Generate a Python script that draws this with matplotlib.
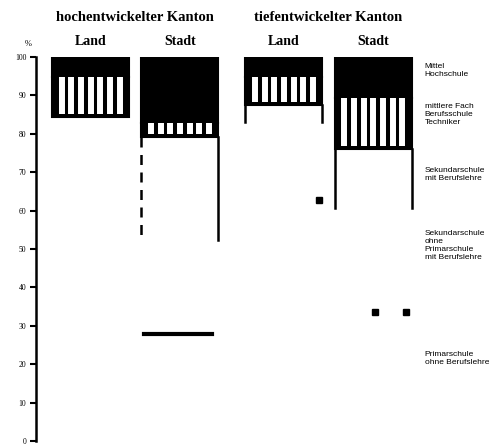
"""Schulbildung nach Kanton und Wohnort: stacked 100% bars (scan-style)."""
import numpy as np
import matplotlib
matplotlib.use("Agg")
import matplotlib.pyplot as plt  # noqa: E402

nan = np.nan

kantone = ["hochentwickelter Kanton", "tiefentwickelter Kanton"]
wohnort = ["Land", "Stadt", "Land", "Stadt"]

# shares in %, top of the bar downwards (nan = not legible in the scan)
hochschule = [5.2, 17.2, 5.2, 10.7]
fachschule = [10.4, 3.6, 7.3, 13.3]
sek_mit = [nan, 26.9, 24.7, 15.3]
sek_ohne_prim_mit = [nan, 24.4, nan, 27.1]
prim_ohne = [nan, 27.9, nan, 33.6]

legend_labels = ["Mittel\nHochschule",
                 "mittlere Fach\nBerufsschule\nTechniker",
                 "Sekundarschule\nmit Berufslehre",
                 "Sekundarschule\nohne\nPrimarschule\nmit Berufslehre",
                 "Primarschule\nohne Berufslehre"]
yticks = list(range(0, 101, 10))

SERIF = ["Liberation Serif", "DejaVu Serif"]
NARROW = ["Liberation Sans", "DejaVu Sans"]
W = 1.0
group_x = [1.29, 3.80]
pos = [group_x[0] - 0.58, group_x[0] + 0.58, group_x[1] - 0.58, group_x[1] + 0.58]

fig = plt.figure(figsize=(5.04, 4.48), dpi=100)
ax = fig.add_axes([36 / 504, 7 / 448, 468 / 504, 384 / 448])
ax.set_xlim(0, 468 / 77)
ax.set_ylim(0, 100)

top = np.full(4, 100.0)
h = np.array(hochschule)
f = np.array(fachschule)
ax.bar(pos, h, W, bottom=top - h, color="black", edgecolor="black", lw=1.5)
fb = top - h - f
ax.bar(pos, f, W, bottom=fb, color="black", edgecolor="black", lw=1.5)
# white gaps of the striped segment
for x, b, hh in zip(pos, fb, f):
    xs = np.linspace(x - W / 2, x + W / 2, 9)[1:-1]
    ax.vlines(xs, b + 0.8, b + hh, color="white", lw=4.3)

# third segment: only the sides survive in the scan
s3_bottom = fb - np.array(sek_mit)
sides = {1: ("--", "-"), 2: ("-", "-"), 3: ("-", "-")}
for i, (ls_l, ls_r) in sides.items():
    lo = s3_bottom[i] if i != 2 else fb[i] - 4.5
    ax.plot([pos[i] - W / 2] * 2, [fb[i], lo], color="black", lw=1.8, ls=ls_l,
            dashes=(4, 3) if ls_l == "--" else (None, None))
    ax.plot([pos[i] + W / 2] * 2, [fb[i], lo], color="black", lw=1.8, ls=ls_r)

# surviving boundary marks
ax.plot([pos[2] + 0.45], [s3_bottom[2]], "s", color="black", ms=4.5)
s4_bottom = s3_bottom - np.array(sek_ohne_prim_mit)
ax.plot([pos[1] - 0.47, pos[1] + 0.42], [s4_bottom[1]] * 2, color="black", lw=3)
ax.plot([pos[3] + 0.02, pos[3] + 0.43], [s4_bottom[3]] * 2, "s", color="black", ms=4.5)

# titles
for gx, k in zip(group_x, kantone):
    ax.text(gx, 110.3, k, ha="center", va="center", fontsize=10.5,
            fontweight="bold", family=SERIF, clip_on=False)
for x, w in zip(pos, wohnort):
    ax.text(x, 104.0, w, ha="center", va="center", fontsize=10,
            fontweight="bold", family=SERIF, clip_on=False)

label_y = [96.6, 84.9, 69.3, 51.0, 21.6]
for y, lab in zip(label_y, legend_labels):
    ax.text(5.05, y, lab, ha="left", va="center", fontsize=6,
            family=NARROW, linespacing=1.2, clip_on=False)

fig.text(28 / 504, 1 - 44 / 448, "%", ha="center", va="center", fontsize=6,
         family=SERIF)

for s in ("top", "right", "bottom"):
    ax.spines[s].set_visible(False)
ax.spines["left"].set_linewidth(1.8)
ax.set_xticks([])
ax.set_yticks(yticks)
ax.set_yticklabels([str(t) for t in yticks], fontsize=5.5, family=SERIF)
ax.tick_params(axis="y", direction="out", length=4, width=1.5, pad=3)

fig.savefig("out.png", dpi=100)
